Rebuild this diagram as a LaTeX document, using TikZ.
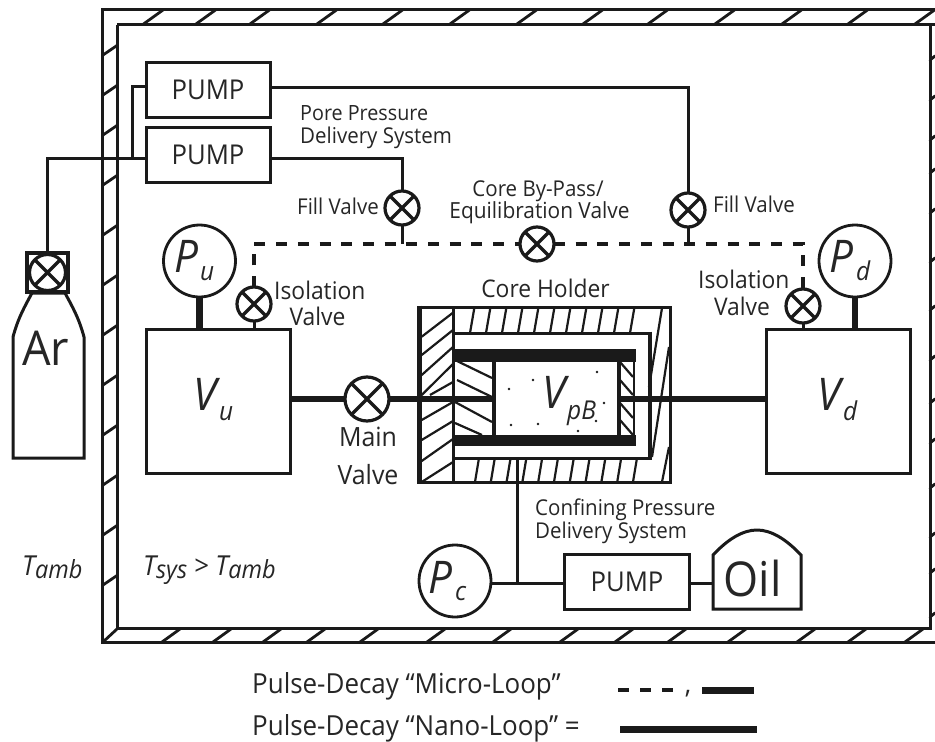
\documentclass[tikz,border=0pt]{standalone}
\usepackage{fontspec}
\setmainfont[FakeStretch=0.94]{Open Sans}
\definecolor{ink}{HTML}{1A1A1A}
\definecolor{txt}{HTML}{262626}
\newcommand{\lsz}{\fontsize{21.8}{24}\selectfont}
\newcommand{\isz}{\fontsize{24.3}{27}\selectfont}
\newcommand{\psz}{\fontsize{27.3}{30}\selectfont}
\newcommand{\lgz}{\fontsize{27.6}{30}\selectfont}
\newcommand{\msz}{\fontsize{26.5}{30}\selectfont}
\newcommand{\vsz}{\itshape\fontsize{45}{50}\selectfont}
\newcommand{\ssz}{\itshape\fontsize{26}{30}\selectfont}
\newcommand{\tbig}{\fontsize{27.5}{30}\selectfont}
\newcommand{\tsmall}{\fontsize{25}{28}\selectfont}
\usetikzlibrary{calc}
\tikzset{
  wire/.style={line width=3pt,draw=ink},
  thickwire/.style={line width=6.6pt,draw=ink},
  hatchline/.style={line width=2.8pt,draw=ink,line cap=round},
  coreline/.style={line width=2.2pt,draw=ink},
  boxnode/.style={draw=ink,line width=3pt,inner sep=0pt,outer sep=0pt,text=txt},
  pumpbox/.style={boxnode,minimum width=124pt,minimum height=55pt,font=\psz},
  volbox/.style={boxnode,minimum width=144pt,minimum height=144pt},
  gauge/.style={circle,draw=ink,line width=2.8pt,inner sep=0pt,outer sep=0pt,minimum size=72pt},
  valve/.style={circle,draw=ink,line width=3.2pt,inner sep=0pt,outer sep=0pt,minimum size=#1,
    path picture={\draw[ink,line width=3.2pt]
      (path picture bounding box.north west)--(path picture bounding box.south east)
      (path picture bounding box.north east)--(path picture bounding box.south west);}},
  valve/.default=34pt,
  lab/.style={anchor=base west,inner sep=0pt,text=txt,font=\lsz},
  labc/.style={anchor=base,inner sep=0pt,text=txt,font=\lsz},
  biglab/.style={anchor=base,inner sep=0pt,text=txt,font=\fontsize{48}{52}\selectfont},
  varlab/.style={anchor=base west,inner sep=0pt,text=txt,font=\vsz},
  sublab/.style={anchor=base west,inner sep=0pt,text=txt,font=\ssz},
}
\begin{document}
\begin{tikzpicture}[x=1pt,y=-1pt]
\useasboundingbox (0,0) rectangle (935,742);
\fill[white] (0,0) rectangle (935,742);

% walls
\draw[wire] (935,9.5)--(102.5,9.5)--(102.5,642.5)--(935,642.5);
\draw[wire] (935,24.5)--(117,24.5);
\draw[wire] (117,24.5)--(117,628)--(930,628)--(930,24.5);
\foreach \x in {143.5,196,250,317,383,450,517,583,648,715,782,848,915}
  \draw[hatchline] (\x,24)--(\x+19.5,10);
\foreach \x in {162,213,263,307,360,427,493,560,615,668,728,797,848,905}
  \draw[hatchline] (\x,642)--(\x+18,629);
\foreach \y in {55,95,135,185,235,285,335,385,435,485,535,585}
  \draw[hatchline] (103,\y)--(117,\y-9.5);
\draw[hatchline] (103,642)--(117,629);
\foreach \y in {60,100,140,173,213,262,310,360,403,443,488,537,573,617}
  \draw[hatchline] (930,\y)--(935,\y-4);

% pumps
\node[pumpbox] (p1) at (208,89.5) {PUMP};
\node[pumpbox] (p2) at (208,154.5) {PUMP};
\coordinate (p1L) at (146,86.5);
\coordinate (p1R) at (270,87);
\coordinate (p2L) at (146,158);
\coordinate (p2R) at (270,158);

% bottle
\draw[wire] (13,458)--(13,337) .. controls (18,318) and (25,306) .. (32,293)
  -- (65,293) .. controls (72,306) and (79,318) .. (84,337) -- (84,458) -- cycle;
\node[boxnode,line width=3.2pt,minimum width=41pt,minimum height=39pt] (vbox) at (47.5,272.5) {};
\node[valve=36pt] (vAr) at (47.5,272.5) {};
\node[biglab] (ar) at (45.5,365) {Ar};
\draw[wire] (vbox.north)--(47.5,158)--(p2L);
\draw[wire] (p1L)--(132,86.5)--(132,158);

% volumes
\node[volbox] (vu) at (218,401) {};
\node[volbox] (vd) at (838,401.5) {};
\node[gauge] (Pu) at (199.5,261) {};
\node[gauge] (Pd) at (855,261) {};
\node[gauge] (Pc) at (455,581) {};
\draw[thickwire] (Pu.south)--(Pu.south |- vu.north);
\draw[thickwire] (Pd.south)--(Pd.south |- vd.north);

% valves
\node[valve] (fillL) at (402,208) {};
\node[valve] (fillR) at (688,210) {};
\node[valve] (byp) at (537,244) {};
\node[valve] (isoL) at (254,304) {};
\node[valve] (isoR) at (803,306) {};
\node[valve=44pt] (main) at (367,399) {};

\coordinate (jL) at (402,244);
\coordinate (jR) at (688,244);
\coordinate (cL) at (254,244);
\coordinate (cR) at (803,244);
\draw[wire] (p1R)--(688,87)--(fillR.north);
\draw[wire] (p2R)--(402,158)--(fillL.north);
\draw[wire] (fillL.south)--(jL);
\draw[wire] (fillR.south)--(jR);
\draw[wire] (isoL.south)--(isoL.south |- vu.north);
\draw[wire] (isoR.south)--(isoR.south |- vd.north);
\draw[line width=3.2pt,draw=ink,dash pattern=on 11pt off 10.7pt] (isoL.north)--(cL)--(byp.west);
\draw[line width=3.2pt,draw=ink,dash pattern=on 11pt off 10.7pt] (byp.east)--(cR)--(isoR.north);

% core holder
\coordinate (chL) at (494,399);
\coordinate (chR) at (620,399);
\draw[wire] (419,307)--(670,307)--(670,482)--(419,482);
\draw[line width=5pt,draw=ink] (419.5,305.5)--(419.5,483.5);
\draw[wire] (453.5,307)--(453.5,482);
\draw[wire] (453.5,333)--(650,333);
\draw[wire] (453.5,458)--(650,458);
\draw[line width=3.8pt,draw=ink] (650,331.5)--(650,459.5);
\foreach \k in {0,...,10}
  \draw[coreline] (470+16*\k,333)--(474.5+16*\k,307);
\foreach \k in {0,...,10}
  \draw[coreline] (475+15.8*\k,482)--(479+15.8*\k,458);
\foreach \a/\b in {336.7/312.7,355/330,375/347,395/364,420/402,440/421,461/439,482/462}
  \draw[coreline] (421.7,\a)--(453,\b);
\draw[coreline] (430,395)--(453,382);
\draw[coreline] (649,387)--(662,308);
\draw[coreline] (652,457)--(669,347);
\draw[coreline] (662,482)--(669,447);
% pistons
\draw[coreline] (457,361)--(492,378);
\draw[coreline] (457,380)--(492,397);
\draw[coreline] (455,402)--(492,422);
\draw[coreline] (455,423)--(482,435);
\draw[coreline] (620,362)--(633,377);
\draw[coreline] (620,380)--(633,395);
\draw[coreline] (620,403)--(633,418);
\draw[coreline] (620,420)--(633,435);
\draw[line width=2.6pt,draw=ink] (634,349)--(634,446);
\draw[line width=4pt,draw=ink] (494,362)--(494,435);
\draw[line width=4pt,draw=ink] (619,362)--(619,435);
\fill[ink] (454,349) rectangle (636,362);
\fill[ink] (454,435) rectangle (636,446);
\foreach \x/\y in {509/389,533/380,597/372,604/403,596/421,578/431,538/424,511/425}
  \fill[ink] (\x,\y) circle (1.3);

\draw[thickwire] (vu.east |- main)--(main.west);
\draw[thickwire] (main.east)--(chL);
\draw[thickwire] (chR)--(vd.west |- chR);

% confining system
\node[boxnode,minimum width=125pt,minimum height=55pt,font=\psz] (p3) at (627,581.5) {PUMP};
\coordinate (p3L) at (564,583);
\coordinate (p3R) at (689,583);
\coordinate (oilL) at (713,583);
\coordinate (chB) at (517,458);
\coordinate (jC) at (517,583);
\draw[wire] (chB)--(jC);
\draw[wire] (Pc.east |- jC)--(p3L);
\draw[wire] (p3R)--(oilL);
\draw[wire] (713,609)--(713,555) .. controls (728,539) and (743,530) .. (757,530)
  .. controls (771,530) and (786,539) .. (801,555) -- (801,609) -- cycle;
\node[biglab] (oil) at (752.5,596) {Oil};

% variable labels
\node[varlab] (tVu) at (193,410) {V};
\node[sublab] (tu) at (219,420) {u};
\node[varlab] (tVd) at (817,410) {V};
\node[sublab] (td) at (843,420) {d};
\node[varlab] (tVp) at (542,408) {V};
\node[sublab] (tpB) at (567,419) {pB};
\node[varlab] (tPu) at (174,272) {P};
\node[sublab] (tPus) at (200,280) {u};
\node[varlab] (tPd) at (829,272) {P};
\node[sublab] (tPds) at (856,280) {d};
\node[varlab] (tPc) at (428,593) {P};
\node[sublab] (tPcs) at (455,600) {c};

% text labels
\node[lab,font=\fontsize{21}{24}\selectfont] (l1) at (300,120) {Pore Pressure};
\node[lab] (l2) at (300,143) {Delivery System};
\node[lab] (l3) at (297,214) {Fill Valve};
\node[labc] (l4) at (538,196) {Core By-Pass/};
\node[labc,font=\fontsize{22.2}{25}\selectfont] (l5) at (539.5,218) {Equilibration Valve};
\node[lab] (l6) at (713,212) {Fill Valve};
\node[lab,font=\isz] (l7) at (274,299) {Isolation};
\node[labc,font=\isz] (l8) at (317.5,325) {Valve};
\node[lab,font=\isz] (l9) at (698,288) {Isolation};
\node[labc,font=\isz] (l10) at (742,315) {Valve};
\node[labc,font=\isz] (l11) at (545.5,297) {Core Holder};
\node[labc,font=\msz] (l12) at (368,446) {Main};
\node[labc,font=\msz] (l13) at (368,484) {Valve};
\node[lab] (l14) at (535,515) {Confining Pressure};
\node[lab] (l15) at (535,538) {Delivery System};

\node[anchor=base west,inner sep=0pt,text=txt] (tamb) at (22,575)
  {\itshape\tbig T\tsmall\raisebox{-3pt}{amb}};
\node[anchor=base west,inner sep=0pt,text=txt] (tsys) at (143,575)
  {\itshape\tbig T\tsmall\raisebox{-3pt}{sys}\tbig{} > T\tsmall\raisebox{-3pt}{amb}};

% legend
\node[anchor=base west,inner sep=0pt,text=txt,font=\lgz] (leg1) at (252,693) {Pulse-Decay “Micro-Loop”};
\node[anchor=base west,inner sep=0pt,text=txt,font=\lgz] (leg2) at (252,735) {Pulse-Decay “Nano-Loop” =};
\coordinate (a1) at (618,690); \coordinate (a2) at (673,690);
\coordinate (b1) at (702,690); \coordinate (b2) at (754,690);
\coordinate (c1) at (620,729); \coordinate (c2) at (757,729);
\draw[line width=3.5pt,draw=ink,dash pattern=on 11pt off 11pt] (a1)--(a2);
\draw[line width=7pt,draw=ink] (b1)--(b2);
\draw[line width=7pt,draw=ink] (c1)--(c2);
\node[anchor=base,inner sep=0pt,text=txt,font=\lgz] (comma) at (688,693) {,};
\end{tikzpicture}
\end{document}
